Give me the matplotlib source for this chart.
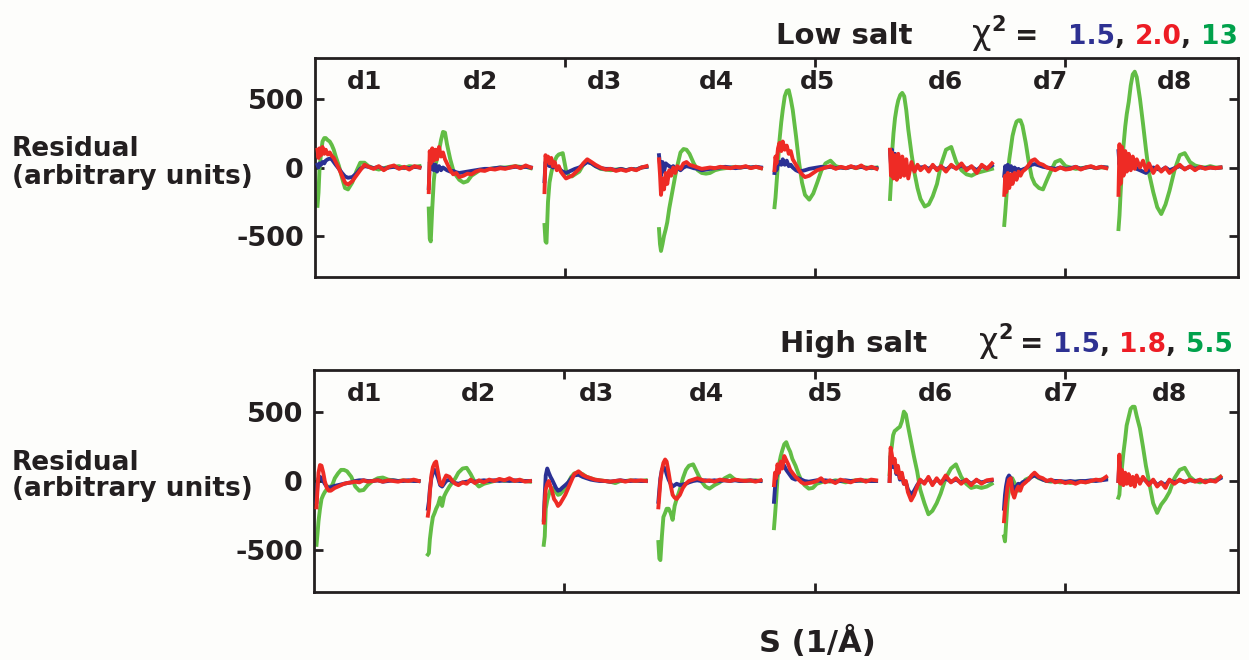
import matplotlib
matplotlib.use("Agg")
import matplotlib.pyplot as plt
import numpy as np

# ---------------------------------------------------------------- data
segment_names = ["d1", "d2", "d3", "d4", "d5", "d6", "d7", "d8"]
# start of each concatenated data set along S (1/Å)
segment_start = [0.0010, 0.0455, 0.0918, 0.1376, 0.1838, 0.2300, 0.2757, 0.3214]
# sample positions inside one data set, offset from its start (1/Å)
s_local = [0.0000, 0.0004, 0.0008, 0.0014, 0.0020, 0.0027, 0.0033, 0.0041,
           0.0049, 0.0057, 0.0065, 0.0073, 0.0086, 0.0098, 0.0110, 0.0122,
           0.0139, 0.0155, 0.0171, 0.0188, 0.0204, 0.0224, 0.0245, 0.0265,
           0.0286, 0.0306, 0.0326, 0.0347, 0.0367, 0.0388, 0.0408]

# Low salt residuals (arbitrary units), one list per data set d1..d8
low_green = [
    [-280, -185, -15, 105, 190, 215, 215, 200, 190, 165, 130, 80, 10, -75, -150, -160, -110, -30, 35, 35, 10, -5, -15, -5, 5, 5, 10, -5, 10, 5, 10],
    [-300, -520, -540, -300, -100, 20, 60, 120, 200, 260, 255, 170, 60, -20, -60, -90, -110, -100, -60, -40, -20, -15, -10, -5, 0, 0, 5, 10, 5, 5, -5],
    [-420, -540, -550, -250, -110, -40, 10, 50, 80, 95, 100, 105, -20, -60, -65, -50, -30, 20, 45, 30, 10, -10, -15, -20, -15, -10, -20, -10, -15, 0, 5],
    [-450, -560, -610, -560, -500, -450, -400, -300, -220, -140, -60, 10, 110, 135, 130, 100, 30, -20, -40, -45, -40, -20, -10, -5, 0, 5, 0, 5, 0, 5, -5],
    [-290, -220, -120, 30, 200, 330, 420, 520, 560, 565, 500, 420, 230, 40, -110, -200, -235, -190, -110, -20, 30, 50, 10, 0, -5, 5, -5, 5, 0, -5, 0],
    [-230, -100, 100, 250, 360, 440, 490, 530, 545, 520, 420, 280, 100, -40, -150, -230, -285, -270, -210, -120, 20, 130, 150, 40, -20, -50, -60, -40, -30, -20, -10],
    [-420, -330, -230, -60, 60, 150, 230, 290, 335, 345, 345, 305, 180, 40, -70, -120, -150, -160, -90, -20, 40, 55, 10, 0, -10, -5, 0, 5, -5, 0, 0],
    [-450, -350, -200, 0, 160, 300, 390, 480, 600, 680, 700, 660, 500, 320, 130, -40, -180, -290, -340, -270, -170, -20, 90, 105, 40, 15, 5, 0, 10, 0, 0],
]
low_red = [
    [130, 70, 140, 90, 150, 100, 130, 95, 110, 85, 70, 40, -10, -60, -110, -125, -100, -60, -20, 20, 5, -10, 10, -20, 5, 15, -10, 5, -15, 10, 0],
    [-180, 120, 30, 140, 50, 130, 60, 150, 80, 110, 60, 30, -20, -50, -40, -70, -60, -45, -50, -30, -20, -25, -10, -15, -5, -10, 0, 10, -5, 15, 0],
    [-180, 90, 60, 80, 30, 70, 10, 40, -20, 10, -30, -50, -80, -70, -60, -40, -10, 30, 60, 40, 20, 0, -15, -10, -25, -15, -25, -10, -20, 0, 10],
    [60, -50, -200, -80, -160, -40, -120, -20, -60, 0, -40, 10, -10, 30, 40, 20, 10, 0, -10, -5, 0, -5, 5, 0, -5, 5, 0, 10, -5, 5, -5],
    [-20, 80, 30, 140, 180, 120, 190, 130, 160, 100, 120, 60, 20, -20, -50, -70, -60, -40, -20, -10, 0, 10, -10, 5, -5, 10, -5, 15, -10, 5, -10],
    [130, -60, 110, -80, 90, -90, 100, -70, 80, -60, 60, -80, 40, -30, 20, -20, 10, -30, 20, -20, 10, -30, 20, -10, 30, -20, 10, -40, 20, -10, 30],
    [-200, -60, -180, -40, -150, -50, -120, -40, -90, -30, -60, -30, -10, 20, 50, 60, 30, 20, 0, -10, -20, 0, -15, -10, 5, -15, 0, 10, -5, 5, -5],
    [-200, 170, -120, 150, -60, 120, -30, 100, -20, 80, -10, 60, 0, 50, -20, 30, -40, 10, -30, 0, -40, -10, 20, -15, 10, -20, 5, -10, 0, -5, 0],
]
low_blue = [
    [20, 0, 30, 20, 40, 30, 50, 60, 65, 60, 40, 20, -10, -40, -65, -75, -70, -45, -10, 10, 5, -5, 5, -10, 0, 5, -5, 0, -5, 5, 0],
    [-150, 40, -10, 30, -20, 20, -30, 10, -20, 0, -10, -20, -30, -25, -35, -40, -35, -30, -25, -20, -15, -10, -10, -5, 0, -5, 0, 5, 0, 5, 0],
    [-100, 40, 20, 50, 10, 40, 0, 20, -10, 0, -20, -30, -40, -30, -20, -10, 0, 20, 40, 30, 10, -5, -10, -10, -20, -10, -20, -10, -15, 0, 5],
    [90, 20, -60, 40, -30, 30, 20, 10, 0, 10, -10, 0, -20, 0, 10, 5, -5, -10, -20, -15, -10, -5, 0, 5, 0, -5, 0, 5, 0, 5, 0],
    [-40, 20, -20, 30, 40, 20, 60, 20, 50, 10, 20, 0, -20, -30, -25, -20, -10, -5, 0, 5, 0, 5, -5, 0, -5, 5, 0, 5, -5, 0, -5],
    [120, 20, 130, 10, 100, 0, 60, -20, 40, -30, 20, -40, 10, -20, 10, 0, 5, -10, 10, -10, 5, -15, 10, -5, 15, -10, 5, -20, 10, -5, 15],
    [-60, 10, -40, 20, -20, 10, -30, 0, -20, -10, -25, -15, -5, 10, 20, 25, 15, 5, 0, -5, -10, 0, -10, -5, 5, -10, 0, 5, -5, 5, 0],
    [120, 20, 90, 0, 60, 10, 40, -10, 30, 0, 20, -10, -20, -30, -40, -20, 0, -10, -20, 0, -20, -5, 10, -10, 5, -10, 0, -5, 0, -5, 0],
]

# High salt residuals (arbitrary units)
high_green = [
    [-460, -380, -290, -200, -130, -100, -80, -60, -40, -45, -20, 20, 55, 80, 80, 70, 30, -40, -70, -65, -30, 0, 20, 25, 10, 5, 0, 5, 0, 5, 0],
    [-530, -520, -420, -330, -260, -230, -200, -170, -120, -180, -110, -80, -40, -10, 20, 60, 90, 95, 50, -10, -40, -20, -10, 0, 10, 0, 5, 0, 5, 0, -5],
    [-460, -400, -200, -140, -100, -60, -50, -60, -80, -100, -95, -80, -50, -10, 30, 55, 60, 50, 30, 20, 10, 5, 0, -5, -15, 0, 0, 5, 0, 0, 5],
    [-440, -560, -570, -400, -260, -230, -200, -200, -230, -280, -180, -130, -60, 20, 80, 110, 120, 60, 0, -40, -55, -30, -10, 20, 40, 10, 0, 5, 0, 5, 0],
    [-340, -250, -150, 20, 120, 180, 220, 265, 280, 240, 210, 160, 110, 50, 0, -30, -55, -50, -20, -10, 0, -5, 5, 0, -10, 0, 5, 0, 5, 0, 0],
    [50, 200, 240, 330, 360, 370, 380, 390, 430, 500, 480, 400, 280, 170, 70, -60, -160, -240, -215, -160, -90, 20, 90, 120, 30, -20, -50, -40, -50, -40, -20],
    [-400, -435, -320, -150, -60, 0, 20, -10, -40, -70, -50, -20, 10, 20, 30, 40, 20, 10, 0, -5, 0, -10, -5, -15, -5, 0, -10, 0, 5, 10, 20],
    [-120, -100, 0, 90, 200, 300, 400, 460, 520, 535, 535, 470, 380, 250, 110, 0, -160, -230, -170, -130, -80, 20, 80, 95, 30, 0, -10, 5, 0, 10, 30],
]
high_red = [
    [-190, -60, 60, 115, 110, 60, 0, -50, -70, -70, -60, -50, -40, -30, -20, -15, -10, -5, -10, 5, -5, 0, 5, -5, 5, 0, -5, 5, 0, 10, 0],
    [-250, -200, -80, 40, 100, 130, 140, 60, -20, -30, 10, 40, 30, 0, -20, -30, -10, -20, 10, -15, 5, -10, 10, 0, 15, 5, 20, 0, 10, -5, 0],
    [-300, -150, -60, -20, 0, -40, -70, -130, -150, -180, -165, -140, -100, -50, 0, 50, 70, 45, 30, 20, 10, 5, 0, -5, 0, 5, -5, 5, 0, 5, 0],
    [-190, -100, 0, 80, 130, 155, 140, 60, -30, -100, -120, -130, -100, -50, -20, 0, 10, 20, 10, 0, 5, -5, 10, 5, 0, 10, 5, 0, 5, -5, 5],
    [-30, 60, 20, 120, 60, 140, 90, 180, 150, 120, 80, 60, 30, 10, -10, -20, -15, -10, 0, 20, -10, 5, -15, 10, 0, -10, 5, 10, -5, 10, 5],
    [0, 240, 200, 130, 160, 60, 110, 20, 60, -20, 0, -80, -140, -100, -40, 10, -20, 30, -30, 20, -20, 40, -10, 20, -20, 10, -30, 10, -20, 5, 10],
    [-290, -200, -140, -40, 10, 20, -80, -120, -70, -40, -70, -30, -10, 10, 40, 60, 30, 20, 0, 10, -10, 0, -15, -5, -20, -5, -10, 0, 10, 5, 30],
    [0, 190, -20, 80, -30, 60, -20, 50, -30, 30, -40, 40, -20, 30, 0, -30, 10, -40, -10, -50, 10, -20, 10, -10, 10, -5, 10, -10, 5, -5, 30],
]
high_blue = [
    [-150, -20, 20, 30, 20, 0, -20, -40, -50, -45, -40, -35, -30, -25, -20, -15, -10, 0, 5, 5, 0, 0, 5, -5, 0, 5, 0, 0, 5, 0, 0],
    [-200, -150, -60, 20, 60, 80, 60, 20, -30, -40, -20, 0, 10, -5, -15, -20, -10, -5, 0, -5, 0, 5, 0, 5, 0, 5, 0, 5, 0, 0, 0],
    [-280, -100, 40, 90, 60, 30, 10, -20, -50, -70, -65, -50, -30, -10, 20, 40, 45, 30, 20, 10, 5, 0, 0, -5, 0, 5, 0, 0, 5, 0, 0],
    [-150, -60, 20, 80, 100, 90, 50, 10, -20, -40, -30, -20, -30, -25, -20, -10, 0, 5, 0, 5, 0, 5, 0, 5, 0, 5, 0, 0, 5, 0, 0],
    [-150, -50, 20, 60, 80, 100, 120, 110, 80, 60, 40, 20, 10, 20, 10, 0, -5, 0, 5, 0, 5, 0, -5, 0, 5, 0, 0, 5, 0, 0, 0],
    [0, 180, 160, 100, 120, 50, 80, 10, 40, -20, -10, -60, -100, -70, -30, 0, -10, 20, -20, 10, -10, 20, -5, 10, -10, 5, -20, 5, -10, 0, 5],
    [-200, -100, -40, 20, 40, 20, -30, -60, -40, -20, -30, -10, 0, 10, 30, 40, 25, 10, 0, 5, 0, 0, -5, 0, -5, 0, 0, 5, 0, 5, 10],
    [0, 140, -10, 60, -20, 40, -10, 40, -20, 20, -30, 30, -10, 20, 0, -20, 5, -30, -10, -30, 5, -10, 5, -5, 5, 0, 5, -5, 5, 0, 20],
]

chi2_low = ["1.5", "2.0", "13"]
chi2_high = ["1.5", "1.8", "5.5"]
y_ticks = [-500, 0, 500]
x_ticks = [0.1, 0.2, 0.3]

# ---------------------------------------------------------------- style
W, H = 1249, 660
INK = "#231f20"
LINE_BLUE, LINE_RED, LINE_GREEN = "#2b3094", "#ee2b25", "#62bd45"
TXT_BLUE, TXT_RED, TXT_GREEN = "#2e3192", "#ed1c24", "#00a14b"
LW = 2.8

plt.rcParams["font.family"] = ["DejaVu Sans"]
plt.rcParams["axes.linewidth"] = 2.0

fig = plt.figure(figsize=(W / 100, H / 100), dpi=100)
fig.patch.set_facecolor("#fdfdfb")
renderer = fig.canvas.get_renderer()


def px_rect(left, top, right, bottom):
    return [left / W, 1 - bottom / H, (right - left) / W, (bottom - top) / H]


def fig_text(x_px, y_px, s, **kw):
    return fig.text(x_px / W, 1 - y_px / H, s, **kw)


label_x_low = [0.0200, 0.0660, 0.1160, 0.1604, 0.2008, 0.2520, 0.2940, 0.3440]
label_x_high = [0.0204, 0.0656, 0.1128, 0.1568, 0.2044, 0.2484, 0.2988, 0.3420]


def draw_panel(ax, green, blue, red, label_x):
    s_loc = np.asarray(s_local)
    for k in range(len(segment_names)):
        x = segment_start[k] + s_loc
        ax.plot(x, green[k], color=LINE_GREEN, lw=LW, zorder=2)
        ax.plot(x, blue[k], color=LINE_BLUE, lw=LW, zorder=3)
        ax.plot(x, red[k], color=LINE_RED, lw=LW, zorder=4)
        ax.text(label_x[k], 628, segment_names[k], ha="center", va="center",
                fontsize=18, fontweight="bold", color=INK)
    ax.set_xlim(0, 0.3692)
    ax.set_ylim(-800, 800)
    ax.set_xticks(x_ticks)
    ax.set_yticks(y_ticks)
    ax.set_xticklabels([])
    ax.set_yticklabels([str(v) for v in y_ticks], fontsize=19.5,
                       fontweight="bold", color=INK)
    ax.tick_params(axis="both", direction="in", length=6.5, width=2.0,
                   color=INK, top=True, right=True, pad=8)
    ax.tick_params(axis="y", labelright=False)
    for sp in ax.spines.values():
        sp.set_color(INK)
    ax.set_facecolor("none")


ax_low = fig.add_axes(px_rect(315, 58, 1238, 277))
draw_panel(ax_low, low_green, low_blue, low_red, label_x_low)
ax_high = fig.add_axes(px_rect(314, 370, 1238, 592))
draw_panel(ax_high, high_green, high_blue, high_red, label_x_high)

# y-axis captions
for yc in (163, 476):
    fig_text(12, yc, "Residual\n(arbitrary units)", ha="left", va="center",
             fontsize=19, fontweight="bold", color=INK, linespacing=1.05)

# x-axis caption
fig_text(817, 652, "S (1/Å)", ha="center", va="baseline", fontsize=22,
         fontweight="bold", color=INK)


def chain(x_px, base_y, parts):
    """Lay text pieces left to right, each after the previous one's extent."""
    x = x_px
    for s, color, size, weight, rise, gap in parts:
        t = fig_text(x, base_y - rise, s, ha="left", va="baseline",
                     fontsize=size, fontweight=weight, color=color)
        x += t.get_window_extent(renderer).width + gap


def title_row(base_y, name, name_x, chi_x, vals, gap_sup, gap_eq):
    fig_text(name_x, base_y, name, ha="left", va="baseline", fontsize=21,
             fontweight="bold", color=INK)
    chain(chi_x, base_y, [
        ("χ", INK, 24, "normal", 0, 0),
        ("2", INK, 15, "bold", 13, gap_sup),
        ("=", INK, 20, "bold", 0, gap_eq),
        (vals[0], TXT_BLUE, 19, "bold", 0, 0),
        (", ", INK, 19, "bold", 0, 0),
        (vals[1], TXT_RED, 19, "bold", 0, 0),
        (", ", INK, 19, "bold", 0, 0),
        (vals[2], TXT_GREEN, 19, "bold", 0, 0),
    ])


title_row(44, "Low salt", 776, 972, chi2_low, 9, 30)
title_row(352, "High salt", 780, 979, chi2_high, 7, 10)

fig.savefig("out.png", dpi=100, facecolor=fig.get_facecolor())
